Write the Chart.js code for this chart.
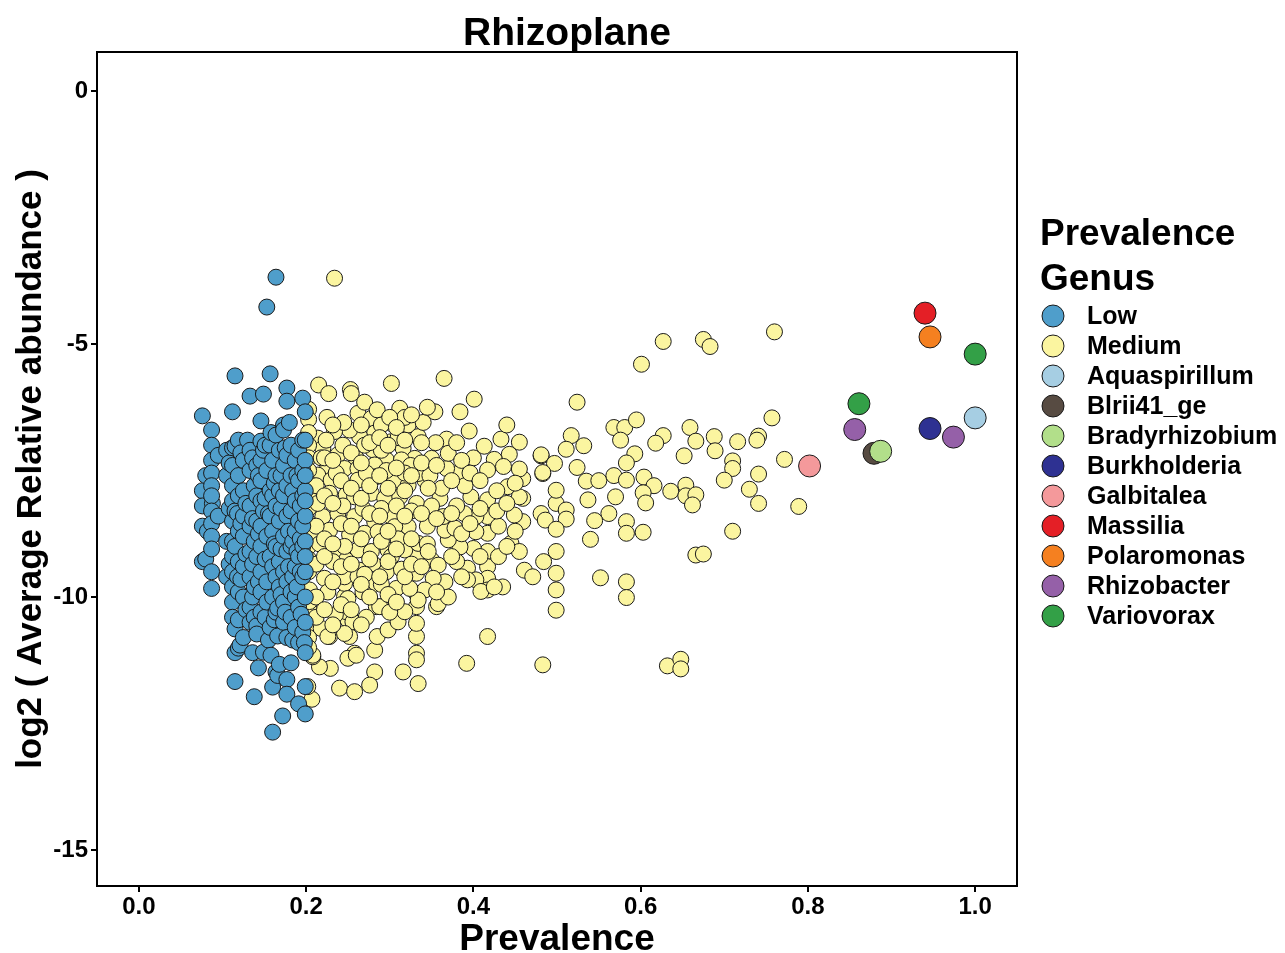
<!DOCTYPE html>
<html>
<head>
<meta charset="utf-8">
<script src="https://cdn.jsdelivr.net/npm/chart.js@4"></script>
<style>
  html, body { margin: 0; padding: 0; background: #fff; }
  #wrap { width: 1285px; height: 953px; position: relative; }
</style>
</head>
<body>
<div id="wrap"><canvas id="scatterChart"></canvas></div>
<script>
// x = prevalence, y = log2(average relative abundance)
var lowPoints = [
  [0.076, -6.42], [0.076, -7.9], [0.076, -8.6], [0.076, -9.3], [0.076, -8.2],
  [0.080, -9.25], [0.080, -7.6], [0.082, -8.7], [0.088, -8.15],
  [0.087, -6.70], [0.087, -7.0], [0.087, -7.3], [0.087, -7.55], [0.087, -7.8], [0.087, -8.0],
  [0.087, -8.3], [0.087, -8.55], [0.087, -8.8], [0.087, -9.05], [0.087, -9.5], [0.087, -9.83],
  [0.095, -7.2], [0.095, -8.4],
  [0.105, -7.1], [0.105, -7.6], [0.105, -8.9], [0.105, -9.6],
  [0.108, -7.35], [0.108, -8.25], [0.108, -9.35],
  [0.112, -6.34], [0.112, -7.05], [0.112, -7.4], [0.112, -7.8], [0.112, -8.1], [0.112, -8.5],
  [0.112, -8.9], [0.112, -9.2], [0.112, -9.5], [0.112, -9.8], [0.112, -10.1], [0.112, -10.4],
  [0.115, -5.63], [0.115, -7.02], [0.115, -8.3], [0.115, -9.0], [0.115, -10.63], [0.115, -11.67], [0.115, -11.1],
  [0.118, -8.35], [0.118, -9.6],
  [0.119, -6.90], [0.119, -7.6], [0.119, -8.0], [0.119, -8.7], [0.119, -9.3], [0.119, -9.9], [0.119, -10.45], [0.119, -11.01],
  [0.121, -10.95], [0.122, -7.15], [0.122, -8.55], [0.122, -9.65],
  [0.125, -7.3], [0.125, -7.9], [0.125, -8.4], [0.125, -8.8], [0.125, -9.4], [0.125, -10.0], [0.125, -10.8],
  [0.128, -8.15], [0.128, -9.15], [0.128, -10.25], [0.130, -6.9],
  [0.133, -6.03], [0.133, -7.1], [0.133, -7.5], [0.133, -8.2], [0.133, -8.6], [0.133, -9.1], [0.133, -9.6], [0.133, -10.2], [0.133, -10.5],
  [0.136, -7.25], [0.136, -8.45], [0.136, -9.35], [0.136, -10.0], [0.136, -11.1],
  [0.138, -7.8], [0.138, -8.9], [0.138, -9.8], [0.138, -11.97], [0.138, -10.4],
  [0.141, -7.4], [0.141, -8.0], [0.141, -8.5], [0.141, -9.2], [0.141, -10.57], [0.141, -10.73],
  [0.143, -7.6], [0.143, -8.75], [0.143, -9.7],
  [0.146, -6.52], [0.146, -6.92], [0.146, -7.3], [0.146, -7.7], [0.146, -8.1], [0.146, -8.6],
  [0.146, -9.0], [0.146, -9.5], [0.146, -9.9], [0.146, -10.3],
  [0.149, -5.99], [0.149, -7.1], [0.149, -8.3], [0.149, -11.09], [0.143, -11.40],
  [0.151, -7.0], [0.151, -8.05], [0.151, -9.25], [0.151, -10.4],
  [0.153, -4.27], [0.153, -7.5], [0.153, -8.8], [0.153, -9.7], [0.153, -10.1],
  [0.155, -8.35], [0.155, -10.85],
  [0.157, -5.59], [0.157, -7.0], [0.157, -7.9], [0.157, -8.4], [0.157, -9.2], [0.157, -10.6],
  [0.158, -6.75], [0.158, -11.15],
  [0.160, -7.3], [0.160, -8.0], [0.160, -8.7], [0.160, -9.4], [0.160, -10.0], [0.160, -11.78], [0.160, -12.67],
  [0.162, -7.75], [0.162, -8.95], [0.162, -10.45],
  [0.164, -3.68], [0.164, -6.8], [0.164, -7.6], [0.164, -8.2], [0.164, -9.0], [0.164, -9.6], [0.164, -10.3], [0.164, -11.48], [0.166, -10.77],
  [0.166, -11.55],
  [0.168, -7.1], [0.168, -7.9], [0.168, -8.5], [0.168, -9.3], [0.168, -9.8], [0.168, -11.33], [0.166, -10.22],
  [0.170, -7.6], [0.170, -8.25], [0.170, -9.05], [0.170, -9.95],
  [0.173, -6.60], [0.173, -6.70], [0.173, -7.4], [0.173, -8.0], [0.173, -8.8], [0.173, -9.5], [0.173, -10.1], [0.173, -10.5], [0.172, -12.35],
  [0.175, -7.05], [0.175, -10.3],
  [0.177, -5.87], [0.177, -6.13], [0.177, -7.2], [0.177, -7.8], [0.177, -8.4], [0.177, -9.1], [0.177, -9.7], [0.177, -10.8], [0.177, -11.63], [0.177, -11.92],
  [0.179, -8.7], [0.179, -9.4], [0.180, -6.55],
  [0.182, -7.0], [0.182, -7.6], [0.182, -8.3], [0.182, -9.0], [0.182, -9.9], [0.182, -10.4], [0.182, -11.3],
  [0.184, -7.9], [0.184, -8.9], [0.184, -9.6], [0.184, -10.85],
  [0.187, -7.3], [0.187, -8.1], [0.187, -8.7], [0.187, -9.4], [0.187, -10.0], [0.187, -10.6], [0.191, -12.11],
  [0.189, -7.6], [0.189, -9.1], [0.189, -9.8],
  [0.191, -7.1], [0.191, -7.7], [0.191, -8.5], [0.191, -9.2], [0.191, -10.2], [0.191, -10.9],
  [0.193, -8.2], [0.193, -8.85], [0.193, -9.5],
  [0.196, -6.07], [0.196, -6.9], [0.196, -7.5], [0.196, -8.0], [0.196, -8.6], [0.196, -9.0], [0.196, -9.6], [0.194, -10.34], [0.199, -11.77],
  [0.196, -10.7],
  [0.199, -6.34], [0.199, -6.90], [0.199, -7.3], [0.199, -7.9], [0.199, -8.4], [0.199, -8.9], [0.199, -9.5], [0.199, -10.0], [0.198, -10.90], [0.199, -12.31],
  [0.199, -10.5], [0.199, -9.2], [0.199, -8.1], [0.199, -7.6], [0.199, -11.1]
];

var mediumPoints = [
  [0.234, -3.70],
  [0.215, -5.81], [0.227, -5.98], [0.253, -5.90], [0.254, -5.98], [0.302, -5.78], [0.365, -5.68], [0.401, -6.09], [0.354, -6.34], [0.384, -6.34],
  [0.203, -6.29], [0.203, -6.49], [0.262, -6.37], [0.278, -6.47], [0.312, -6.27], [0.322, -6.60], [0.395, -6.72], [0.368, -6.88],
  [0.433, -6.88], [0.455, -6.94], [0.413, -7.02], [0.481, -7.21], [0.483, -7.56], [0.459, -7.66], [0.459, -8.51], [0.445, -8.94],
  [0.435, -9.80], [0.417, -10.78], [0.392, -11.31], [0.483, -11.34], [0.461, -9.47], [0.471, -9.60],
  [0.334, -11.71], [0.316, -11.48], [0.282, -11.48], [0.276, -11.74], [0.240, -11.80], [0.258, -11.87], [0.229, -11.41], [0.216, -11.38],
  [0.208, -11.18], [0.282, -11.05], [0.285, -10.78], [0.298, -10.65], [0.310, -10.49],
  [0.332, -11.11], [0.332, -10.78], [0.332, -10.52], [0.332, -10.19], [0.332, -9.93], [0.332, -9.53], [0.332, -9.20], [0.356, -10.19],
  [0.284, -10.19], [0.290, -10.19], [0.250, -10.45], [0.252, -10.78], [0.258, -11.11], [0.228, -10.78], [0.202, -10.59], [0.204, -10.26],
  [0.204, -9.86], [0.246, -9.99], [0.246, -9.73],
  [0.627, -4.95], [0.601, -5.40], [0.675, -4.91], [0.683, -5.05], [0.760, -4.76], [0.524, -6.15], [0.757, -6.46], [0.568, -6.65],
  [0.581, -6.65], [0.595, -6.50], [0.576, -6.90], [0.517, -6.81], [0.532, -7.01], [0.511, -7.08], [0.627, -6.81], [0.618, -6.96],
  [0.659, -6.65], [0.666, -6.92], [0.688, -6.83], [0.689, -7.11], [0.716, -6.93], [0.741, -6.82], [0.739, -6.90], [0.593, -7.17],
  [0.583, -7.35], [0.652, -7.21], [0.710, -7.31], [0.710, -7.46], [0.700, -7.69], [0.772, -7.28], [0.741, -7.57], [0.730, -7.87],
  [0.741, -8.15], [0.789, -8.21], [0.710, -8.70], [0.481, -7.19], [0.497, -7.36], [0.483, -7.54], [0.524, -7.44], [0.535, -7.71],
  [0.550, -7.70], [0.568, -7.60], [0.583, -7.69], [0.604, -7.63], [0.616, -7.80], [0.603, -7.94], [0.606, -8.14], [0.636, -7.91],
  [0.654, -7.79], [0.654, -8.00], [0.666, -7.98], [0.662, -8.18], [0.570, -8.02], [0.537, -8.08], [0.562, -8.35], [0.545, -8.49],
  [0.540, -8.86], [0.583, -8.51], [0.583, -8.74], [0.603, -8.72], [0.666, -9.17], [0.675, -9.15], [0.552, -9.62], [0.583, -9.70],
  [0.583, -10.01], [0.499, -9.10], [0.484, -9.30], [0.499, -9.53], [0.499, -9.86], [0.499, -10.26],
  [0.632, -11.36], [0.648, -11.23], [0.648, -11.42], [0.481, -8.35], [0.486, -8.48], [0.499, -8.15], [0.511, -8.28], [0.511, -8.46],
  [0.499, -8.66], [0.459, -8.05], [0.499, -7.89],
  [0.443, -7.18], [0.425, -7.28], [0.400, -7.25], [0.417, -7.49], [0.436, -7.42], [0.455, -7.47], [0.441, -7.82], [0.455, -8.02],
  [0.449, -8.38], [0.417, -8.08], [0.417, -8.41], [0.417, -8.74], [0.417, -9.10], [0.417, -9.40], [0.417, -9.63], [0.417, -9.86],
  [0.403, -8.41], [0.403, -8.71], [0.397, -8.02], [0.389, -8.35], [0.393, -9.43], [0.403, -9.66], [0.393, -9.66], [0.409, -9.89],
  [0.425, -9.80], [0.400, -9.04], [0.384, -9.01], [0.370, -8.87], [0.366, -8.68], [0.378, -8.64], [0.364, -8.41], [0.360, -8.05],
  [0.362, -7.85], [0.381, -7.56], [0.368, -7.46], [0.370, -7.16], [0.350, -7.26], [0.342, -7.69], [0.334, -6.83], [0.350, -9.27],
  [0.358, -9.37], [0.366, -9.70], [0.352, -9.63], [0.342, -9.86], [0.358, -10.13], [0.334, -10.06],
  [0.302, -6.57], [0.282, -6.76], [0.264, -6.83], [0.252, -6.70], [0.234, -6.73], [0.214, -6.86], [0.302, -6.93], [0.316, -7.06],
  [0.330, -7.26], [0.220, -7.06], [0.238, -7.19], [0.280, -7.09], [0.296, -7.29], [0.314, -7.29], [0.260, -7.26], [0.226, -7.42],
  [0.246, -7.46], [0.262, -7.46], [0.282, -7.39], [0.214, -7.59], [0.230, -7.69], [0.262, -7.69], [0.284, -7.62], [0.306, -7.69],
  [0.322, -7.79], [0.334, -7.56], [0.228, -7.95], [0.248, -7.98], [0.258, -8.02], [0.278, -7.95], [0.294, -8.05], [0.312, -8.02],
  [0.332, -8.15], [0.220, -8.41], [0.238, -8.35], [0.258, -8.41], [0.282, -8.51], [0.302, -8.41], [0.322, -8.61], [0.204, -8.54],
  [0.228, -8.68], [0.252, -8.77], [0.270, -8.74], [0.286, -8.71], [0.306, -8.61], [0.208, -8.81], [0.238, -9.10], [0.262, -9.07],
  [0.278, -9.10], [0.298, -9.07], [0.318, -9.07], [0.334, -8.94],
  [0.248, -9.27], [0.264, -9.47], [0.280, -9.34], [0.222, -9.63], [0.246, -9.60], [0.262, -9.60], [0.280, -9.76], [0.302, -9.20],
  [0.308, -9.83], [0.324, -9.83], [0.204, -10.09], [0.250, -10.03], [0.288, -10.19], [0.318, -10.29], [0.248, -10.29], [0.256, -10.49],
  [0.218, -10.62], [0.226, -10.78], [0.246, -10.72], [0.208, -11.15], [0.250, -11.21], [0.260, -11.15], [0.332, -11.24], [0.207, -12.02],
  [0.202, -11.77],
  [0.203, -6.75], [0.203, -7.0], [0.203, -7.25], [0.203, -7.5], [0.203, -7.75], [0.203, -8.0], [0.203, -8.25], [0.203, -9.0],
  [0.203, -9.25], [0.203, -9.5], [0.203, -10.8], [0.203, -11.0],
  [0.224, -6.9], [0.244, -7.0], [0.270, -7.0], [0.290, -7.1], [0.310, -6.85], [0.325, -7.4], [0.218, -7.25], [0.236, -7.55],
  [0.272, -7.55], [0.296, -7.5], [0.318, -7.55], [0.214, -8.15], [0.244, -8.2], [0.268, -8.25], [0.290, -8.25], [0.326, -8.3],
  [0.216, -8.95], [0.246, -9.0], [0.290, -8.9], [0.310, -8.85], [0.232, -9.3], [0.270, -9.55], [0.296, -9.5], [0.314, -9.45],
  [0.226, -9.9], [0.268, -9.9], [0.290, -9.75], [0.235, -10.35], [0.272, -10.4], [0.300, -10.3], [0.340, -6.55], [0.355, -6.95],
  [0.348, -7.6], [0.350, -8.2], [0.345, -8.6], [0.380, -6.95], [0.390, -7.8], [0.380, -8.2], [0.380, -9.3], [0.290, -6.6],
  [0.245, -6.55], [0.225, -6.45], [0.345, -8.95], [0.370, -10.0], [0.440, -6.6], [0.450, -7.75], [0.430, -8.6], [0.430, -9.2],
  [0.455, -9.1], [0.270, -6.15], [0.318, -6.45], [0.345, -6.25], [0.285, -6.3], [0.300, -6.45],
  [0.212, -7.8], [0.212, -8.6], [0.212, -9.35], [0.212, -10.0], [0.212, -10.4], [0.222, -7.25], [0.222, -8.0], [0.222, -8.85],
  [0.222, -9.2], [0.222, -10.25], [0.232, -6.6], [0.232, -7.3], [0.232, -8.15], [0.232, -8.95], [0.232, -9.7], [0.232, -10.55],
  [0.242, -7.7], [0.242, -8.55], [0.242, -9.4], [0.242, -10.15], [0.254, -7.15], [0.254, -7.85], [0.254, -8.6], [0.254, -9.35],
  [0.254, -10.25], [0.266, -6.6], [0.266, -7.35], [0.266, -8.05], [0.266, -8.85], [0.266, -9.75], [0.266, -10.55], [0.276, -6.95],
  [0.276, -7.8], [0.276, -8.35], [0.276, -9.25], [0.276, -10.0], [0.288, -6.85], [0.288, -7.6], [0.288, -8.4], [0.288, -9.6],
  [0.298, -7.0], [0.298, -7.85], [0.298, -8.7], [0.298, -9.3], [0.298, -9.95], [0.308, -6.65], [0.308, -7.45], [0.308, -8.2],
  [0.308, -9.05], [0.308, -10.1], [0.318, -6.9], [0.318, -7.9], [0.318, -8.4], [0.318, -9.6], [0.326, -6.4], [0.326, -7.6],
  [0.326, -8.85], [0.326, -9.35], [0.338, -6.95], [0.338, -7.35], [0.338, -8.35], [0.338, -9.4], [0.346, -7.85], [0.346, -9.1],
  [0.356, -7.4], [0.356, -8.45], [0.356, -9.9], [0.374, -7.7], [0.374, -8.35], [0.374, -9.2], [0.386, -7.3], [0.386, -8.75],
  [0.386, -9.6], [0.396, -7.55], [0.396, -8.55], [0.408, -7.7], [0.408, -8.25], [0.408, -9.2], [0.428, -7.9], [0.428, -8.3],
  [0.440, -8.15], [0.440, -9.0], [0.450, -8.7]
];

var genusNames = ["Aquaspirillum", "Blrii41_ge", "Bradyrhizobium", "Burkholderia", "Galbitalea",
  "Massilia", "Polaromonas", "Rhizobacter", "Variovorax"];
var genusColors = ["#A6CEE3", "#574B42", "#B2DF8A", "#2E3192", "#F4999B",
  "#E41F26", "#F58020", "#9560A8", "#33A047"];
var genusPoints = [
  [[1.000, -6.46]],
  [[0.879, -7.16]],
  [[0.887, -7.12]],
  [[0.946, -6.67]],
  [[0.802, -7.41]],
  [[0.940, -4.39]],
  [[0.946, -4.86]],
  [[0.856, -6.69], [0.974, -6.84]],
  [[1.000, -5.20], [0.861, -6.18]]
];

var prevalenceNames = ["Low", "Medium"];
var prevalenceColors = ["#4F9ECB", "#FBF5A0"];

var xTicks = [0, 0.2, 0.4, 0.6, 0.8, 1.0];
var xTickLabels = ["0.0", "0.2", "0.4", "0.6", "0.8", "1.0"];
var yTicks = [-15, -10, -5, 0];
var yTickLabels = ["-15", "-10", "-5", "0"];

var FONT = "'Liberation Sans', Arial, Helvetica, sans-serif";

function toXY(list) {
  return list.map(function (p) { return { x: p[0], y: p[1] }; });
}

var datasets = [];
genusNames.forEach(function (name, i) {
  datasets.push({
    label: name,
    data: toXY(genusPoints[i]),
    backgroundColor: genusColors[i],
    borderColor: "#1a1a1a",
    borderWidth: 1,
    pointRadius: 11,
    order: name === "Bradyrhizobium" ? 1 : 2
  });
});
datasets.push({
  label: "Low", data: toXY(lowPoints), backgroundColor: prevalenceColors[0],
  borderColor: "#1a1a1a", borderWidth: 1, pointRadius: 8, order: 4
});
datasets.push({
  label: "Medium", data: toXY(mediumPoints), backgroundColor: prevalenceColors[1],
  borderColor: "#1a1a1a", borderWidth: 1, pointRadius: 8, order: 5
});

// frame, title and the legend on the right
var decorPlugin = {
  id: "decor",
  afterDatasetsDraw: function (chart) {
    var a = chart.chartArea, ctx = chart.ctx;
    ctx.save();
    ctx.strokeStyle = "#000";
    ctx.lineWidth = 2;
    ctx.strokeRect(a.left, a.top, a.right - a.left, a.bottom - a.top);
    ctx.restore();
  },
  afterDraw: function (chart) {
    var ctx = chart.ctx;
    ctx.save();
    ctx.fillStyle = "#000";
    ctx.font = "bold 39px " + FONT;
    ctx.textAlign = "center";
    ctx.textBaseline = "alphabetic";
    ctx.fillText("Rhizoplane", 567, 45);

    ctx.textAlign = "left";
    ctx.font = "bold 37px " + FONT;
    ctx.fillText("Prevalence", 1040, 245);
    ctx.fillText("Genus", 1040, 290);

    var names = prevalenceNames.concat(genusNames);
    var colors = prevalenceColors.concat(genusColors);
    ctx.font = "bold 25px " + FONT;
    ctx.textBaseline = "middle";
    names.forEach(function (n, i) {
      var y = 316 + i * 30;
      ctx.beginPath();
      ctx.arc(1053, y, 11, 0, Math.PI * 2);
      ctx.fillStyle = colors[i];
      ctx.fill();
      ctx.lineWidth = 1;
      ctx.strokeStyle = "#1a1a1a";
      ctx.stroke();
      ctx.fillStyle = "#000";
      ctx.fillText(n, 1087, y + 1);
    });
    ctx.restore();
  }
};

var ctx = document.getElementById("scatterChart").getContext("2d");
var chart = new Chart(ctx, {
  type: "scatter",
  data: { datasets: datasets },
  options: {
    responsive: true,
    maintainAspectRatio: false,
    animation: false,
    events: [],
    layout: { padding: { left: 0, right: 268, top: 52, bottom: 0 } },
    plugins: {
      legend: { display: false },
      title: { display: false },
      tooltip: { enabled: false }
    },
    scales: {
      x: {
        type: "linear",
        min: -0.05,
        max: 1.05,
        afterBuildTicks: function (s) { s.ticks = xTicks.map(function (v) { return { value: v }; }); },
        afterFit: function (s) { s.height = 67; },
        ticks: {
          autoSkip: false,
          maxRotation: 0,
          padding: 1,
          color: "#000",
          font: { family: FONT, size: 24, weight: "bold" },
          callback: function (v, i) { return xTickLabels[i]; }
        },
        grid: { drawOnChartArea: false, drawTicks: true, tickLength: 6, color: "#000", lineWidth: 2 },
        border: { display: false },
        title: {
          display: true, text: "Prevalence", color: "#000",
          font: { family: FONT, size: 37, weight: "bold" },
          padding: { top: 0, bottom: -9 }
        }
      },
      y: {
        type: "linear",
        min: -15.71,
        max: 0.77,
        afterBuildTicks: function (s) { s.ticks = yTicks.map(function (v) { return { value: v }; }); },
        afterFit: function (s) { s.width = 97; },
        ticks: {
          autoSkip: false,
          padding: 3,
          color: "#000",
          font: { family: FONT, size: 24, weight: "bold" },
          callback: function (v, i) { return yTickLabels[i]; }
        },
        grid: { drawOnChartArea: false, drawTicks: true, tickLength: 6, color: "#000", lineWidth: 2 },
        border: { display: false },
        title: {
          display: true, text: "log2 ( Average Relative abundance )", color: "#000",
          font: { family: FONT, size: 35, weight: "bold" },
          padding: { top: 10, bottom: 0 }
        }
      }
    }
  },
  plugins: [decorPlugin]
});
</script>
</body>
</html>
